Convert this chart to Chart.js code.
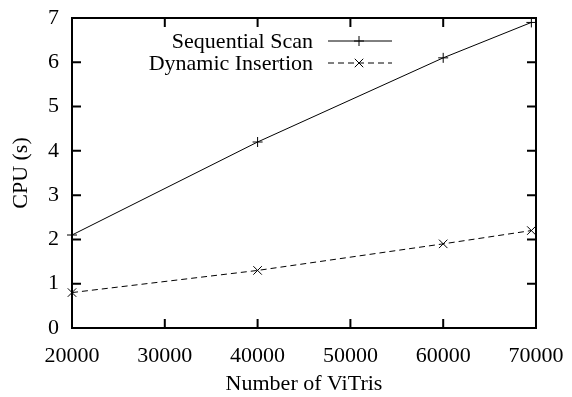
<!DOCTYPE html>
<html lang="en">
<head>
    <meta charset="UTF-8">
    <title>CPU vs ViTris</title>
    <script src="https://cdn.jsdelivr.net/npm/chart.js"></script>
    <style>
        body { margin: 0; background: #fff; }
    </style>
</head>
<body>
    <canvas id="cpuChart" width="572" height="397"></canvas>
    <script>
        // measured CPU time per data set size
        const vitris = [20000, 40000, 60000, 69500];
        const seqScan = [2.1, 4.2, 6.1, 6.9];
        const dynInsert = [0.8, 1.3, 1.9, 2.2];
        const xTicks = [20000, 30000, 40000, 50000, 60000, 70000];
        const yTicks = [0, 1, 2, 3, 4, 5, 6, 7];

        const serif = 'Liberation Serif';
        const toPoints = ys => vitris.map((x, i) => ({ x: x, y: ys[i] }));

        // gnuplot-style frame with inward ticks on every side + key in the top
        const framePlugin = {
            id: 'frame',
            afterDatasetsDraw(chart) {
                const ctx = chart.ctx;
                const a = chart.chartArea;
                const xs = chart.scales.x, ys = chart.scales.y;
                const tl = 9;
                ctx.save();
                ctx.strokeStyle = '#000';
                ctx.lineWidth = 2;
                ctx.beginPath();
                xTicks.forEach(v => {
                    const px = xs.getPixelForValue(v);
                    ctx.moveTo(px, a.bottom); ctx.lineTo(px, a.bottom - tl);
                    ctx.moveTo(px, a.top); ctx.lineTo(px, a.top + tl);
                });
                yTicks.forEach(v => {
                    const py = ys.getPixelForValue(v);
                    ctx.moveTo(a.left, py); ctx.lineTo(a.left + tl, py);
                    ctx.moveTo(a.right, py); ctx.lineTo(a.right - tl, py);
                });
                ctx.stroke();
                ctx.strokeRect(a.left, a.top, a.right - a.left, a.bottom - a.top);

                // key
                ctx.font = '22px "' + serif + '"';
                ctx.fillStyle = '#000';
                ctx.textAlign = 'right';
                ctx.textBaseline = 'middle';
                const textRight = 313, lineL = 328, lineR = 392, mark = 359;
                chart.data.datasets.forEach((ds, i) => {
                    const y = 41 + i * 22;
                    ctx.fillText(ds.label, textRight, y + 1);
                    ctx.lineWidth = 1;
                    ctx.strokeStyle = '#000';
                    ctx.setLineDash(ds.borderDash || []);
                    ctx.beginPath();
                    ctx.moveTo(lineL, y); ctx.lineTo(lineR, y);
                    ctx.stroke();
                    ctx.setLineDash([]);
                    Chart.helpers.drawPoint(ctx, {
                        pointStyle: ds.pointStyle,
                        radius: ds.pointRadius,
                        borderWidth: 1
                    }, mark, y);
                });
                ctx.restore();
            }
        };

        new Chart(document.getElementById('cpuChart'), {
            type: 'scatter',
            data: {
                datasets: [{
                    label: 'Sequential Scan',
                    data: toPoints(seqScan),
                    showLine: true,
                    borderColor: '#000',
                    backgroundColor: '#000',
                    borderWidth: 1,
                    pointStyle: 'cross',
                    pointRadius: 5,
                    pointBorderWidth: 1,
                    clip: false
                }, {
                    label: 'Dynamic Insertion',
                    data: toPoints(dynInsert),
                    showLine: true,
                    borderColor: '#000',
                    backgroundColor: '#000',
                    borderWidth: 1,
                    borderDash: [6, 4],
                    pointStyle: 'crossRot',
                    pointRadius: 6,
                    pointBorderWidth: 1,
                    clip: false
                }]
            },
            options: {
                responsive: false,
                animation: false,
                devicePixelRatio: 1,
                layout: { padding: { top: 18, right: 36, left: 0, bottom: 0 } },
                plugins: {
                    legend: { display: false },
                    tooltip: { enabled: false }
                },
                scales: {
                    x: {
                        type: 'linear',
                        min: 20000,
                        max: 70000,
                        afterFit: s => {
                            s.height = 69;
                            s.paddingLeft = 0;
                            s.paddingRight = 0;
                        },
                        afterBuildTicks: s => { s.ticks = xTicks.map(v => ({ value: v })); },
                        grid: { display: false },
                        border: { display: false },
                        ticks: {
                            color: '#000',
                            padding: 7,
                            maxRotation: 0,
                            font: { family: serif, size: 22 },
                            callback: v => String(v)
                        },
                        title: {
                            display: true,
                            text: 'Number of ViTris',
                            color: '#000',
                            padding: { top: 0, bottom: 0 },
                            font: { family: serif, size: 22 }
                        }
                    },
                    y: {
                        min: 0,
                        max: 7,
                        afterFit: s => {
                            s.width = 72;
                            s.paddingTop = 0;
                            s.paddingBottom = 0;
                        },
                        afterBuildTicks: s => { s.ticks = yTicks.map(v => ({ value: v })); },
                        grid: { display: false },
                        border: { display: false },
                        ticks: {
                            color: '#000',
                            padding: 5,
                            font: { family: serif, size: 22 }
                        },
                        title: {
                            display: true,
                            text: 'CPU (s)',
                            color: '#000',
                            padding: { top: 8, bottom: 0 },
                            font: { family: serif, size: 22 }
                        }
                    }
                }
            },
            plugins: [framePlugin]
        });
    </script>
</body>
</html>
